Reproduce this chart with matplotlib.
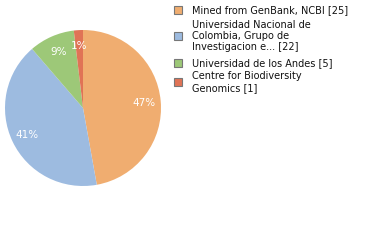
import matplotlib
matplotlib.use('agg')
import matplotlib.pyplot as plt

labels = ['Mined from GenBank, NCBI [25]',
          'Universidad Nacional de\nColombia, Grupo de\nInvestigacion e... [22]',
          'Universidad de los Andes [5]',
          'Centre for Biodiversity\nGenomics [1]']
counts = [25, 22, 5, 1]
colors = ['#f0ad70', '#9dbbe0', '#9dc878', '#e07356']
# vertical centre of each legend entry, in pixels from the top
legend_y = [10, 36, 63, 82]

W, H = 380, 240
fig = plt.figure(figsize=(W / 100, H / 100), dpi=100)

cx, cy, r = 83, 108, 78
ax = fig.add_axes([(cx - r) / W, (H - cy - r) / H, 2 * r / W, 2 * r / H])
ax.pie(counts, colors=colors, startangle=90, counterclock=False,
       autopct=lambda p: '{:d}%'.format(int(p)), pctdistance=0.79,
       textprops={'color': 'white', 'fontsize': 7.5}, radius=1,
       wedgeprops={'linewidth': 0})
ax.set_xlim(-1, 1)
ax.set_ylim(-1, 1)
ax.set_aspect('equal')
ax.axis('off')

for lab, col, y in zip(labels, colors, legend_y):
    fig.patches.append(plt.Rectangle((174 / W, (H - y - 4) / H), 8 / W, 8 / H,
                                     transform=fig.transFigure, facecolor=col,
                                     edgecolor='#777777', linewidth=0.8))
    fig.text(192 / W, (H - y) / H, lab, fontsize=7, color='#111111',
             va='center', ha='left', linespacing=1.15)

plt.savefig('out.png', dpi=100)
